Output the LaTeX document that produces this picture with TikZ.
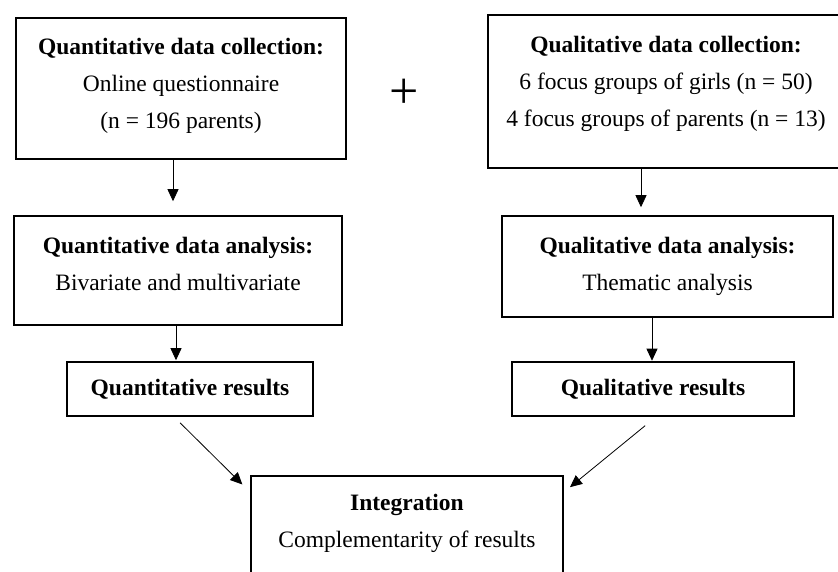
\documentclass[tikz,border=0pt]{standalone}
\usepackage{fontspec}
\setmainfont{Liberation Serif}
\usepackage{tikz}
\usetikzlibrary{arrows.meta, positioning}

\newcommand{\lift}[1]{\rule[-#1]{0pt}{#1}}

\begin{document}
\begin{tikzpicture}[x=1pt, y=-1pt,
		box/.style={draw, line width=1.6pt, align=center, inner sep=0pt, font=\fontsize{23.5}{37}\selectfont},
		arr/.style={-{Triangle[length=12pt, width=11pt]}, line width=0.8pt}]
	\clip (0,0) rectangle (838,571);
	\node[box, minimum width=330pt, minimum height=141pt] (quancol) at (181,88.5) {\textbf{Quantitative data collection:}\\Online questionnaire\\(n = 196 parents)\lift{10pt}};
	\node[box, minimum width=356pt, minimum height=153pt] (qualcol) at (666,91.5) {\textbf{Qualitative data collection:}\\6 focus groups of girls (n = 50)\\4 focus groups of parents (n = 13)\lift{20pt}};
	\node[font=\fontsize{52}{52}\selectfont] (plus) at (404,93.5) {+};
	\node[box, minimum width=328pt, minimum height=109pt] (quanana) at (178,270.5) {\textbf{Quantitative data analysis:}\\Bivariate and multivariate\lift{14pt}};
	\node[box, minimum width=331pt, minimum height=101pt] (qualana) at (667.5,266.5) {\textbf{Qualitative data analysis:}\\Thematic analysis\lift{6pt}};
	\node[box, minimum width=246pt, minimum height=54pt] (quanres) at (190,389) {\textbf{Quantitative results}};
	\node[box, minimum width=282pt, minimum height=54pt] (qualres) at (653,389) {\textbf{Qualitative results}};
	\node[box, minimum width=312pt, minimum height=130pt] (integ) at (407,541) {\textbf{Integration}\\Complementarity of results\lift{40pt}};
	% vertical steps
	\draw[arr, shorten >=14pt] ([xshift=-8pt]quancol.south) -- ([xshift=-8pt]quancol.south |- quanana.north);
	\draw[arr, shorten >=8pt] ([xshift=-25pt]qualcol.south) -- ([xshift=-25pt]qualcol.south |- qualana.north);
	\draw[arr, shorten >=1pt] ([xshift=-2pt]quanana.south) -- ([xshift=-2pt]quanana.south |- quanres.north);
	\draw[arr, shorten >=0.5pt] ([xshift=-15.5pt]qualana.south) -- ([xshift=-15.5pt]qualana.south |- qualres.north);
	% results into integration
	\draw[arr, shorten <=8.5pt, shorten >=11pt] ([xshift=-16pt]quanres.south) -- ([yshift=-17pt]integ.north west);
	\draw[arr, shorten <=14pt, shorten >=8pt] ([xshift=3pt]qualres.south) -- ([yshift=-17pt]integ.north east);
\end{tikzpicture}
\end{document}
